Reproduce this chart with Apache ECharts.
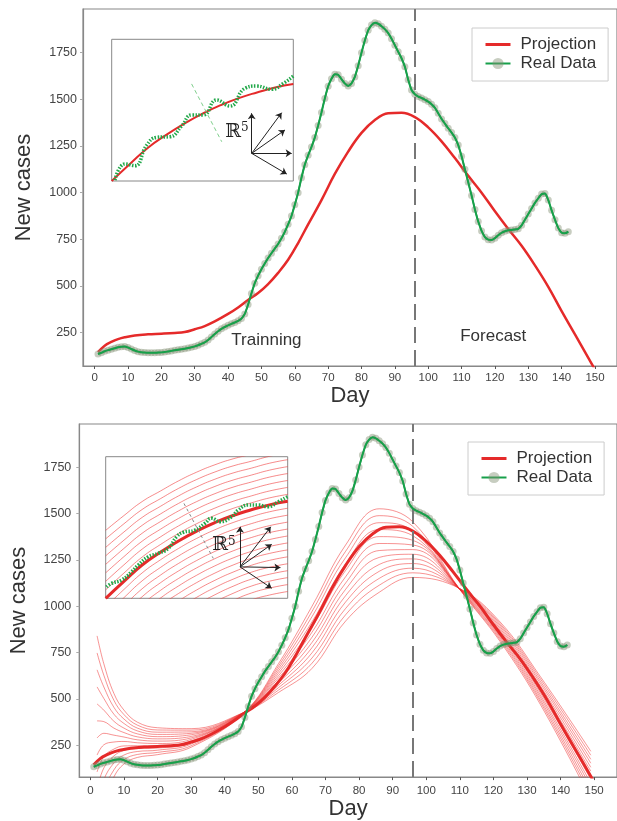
<!DOCTYPE html>
<html>
<head>
<meta charset="utf-8">
<script src="https://cdn.jsdelivr.net/npm/echarts@6/dist/echarts.min.js"></script>
<style>
  html, body { margin: 0; padding: 0; background: #fff; }
  #chart { width: 617px; height: 821px; }
</style>
</head>
<body>
<div id="chart"></div>
<script>
// tick labels
var xTicks = [0, 10, 20, 30, 40, 50, 60, 70, 80, 90, 100, 110, 120, 130, 140, 150];
var yTicks = [250, 500, 750, 1000, 1250, 1500, 1750];
var splitDay = 96;

// real data, one value per day starting at day 1
var realData = [
  135, 142, 150, 156, 161, 166, 171, 174, 175, 170,
  162, 154, 148, 145, 143, 142, 142, 142, 143, 144,
  146, 149, 152, 155, 158, 161, 164, 167, 171, 176,
  182, 190, 198, 210, 226, 242, 257, 270, 280, 289,
  297, 304, 313, 325, 350, 400, 460, 515, 555, 590,
  620, 650, 675, 700, 725, 755, 790, 830, 875, 935,
  1000, 1080, 1150, 1200, 1245, 1295, 1360, 1430, 1505, 1570,
  1610, 1635, 1632, 1608, 1585, 1572, 1585, 1620, 1680, 1750,
  1815, 1870, 1898, 1910, 1905, 1892, 1876, 1855, 1825, 1790,
  1755, 1720, 1675, 1605, 1550, 1527, 1515, 1507, 1498, 1488,
  1474, 1455, 1425, 1395, 1370, 1345, 1322, 1295, 1255, 1195,
  1125, 1055, 985, 910, 845, 795, 762, 748, 746, 756,
  772, 785, 793, 798, 800, 803, 806, 825, 855, 885,
  915, 945, 970, 992, 995, 960, 905, 855, 810, 785,
  782, 791
];

// projection (main fitted curve)
var projDays = [1, 3, 5, 7, 9, 12, 16, 20, 24, 27, 30, 33, 36, 40, 43, 46, 49, 52, 55, 58, 61, 64, 68, 72, 76, 80, 84, 88, 92, 96, 100, 104, 108, 112, 116, 120, 124, 128, 132, 136, 140, 144, 148, 151];
var projVals = [145, 180, 200, 215, 225, 235, 241, 244, 248, 253, 268, 285, 310, 350, 385, 425, 462, 510, 570, 640, 730, 830, 960, 1100, 1220, 1320, 1389, 1425, 1428, 1405, 1350, 1275, 1185, 1090, 1000, 900, 805, 715, 610, 495, 365, 240, 115, 20];

// ensemble of projections (bottom panel)
var ensDays = [2, 4, 7, 10, 14, 20, 30, 46, 56, 66, 76, 86, 96, 110, 122, 134, 149];
var ensCurves = [
  [840, 690, 530, 440, 375, 345, 340, 430, 535, 665, 920, 1075, 1155, 1095, 915, 620, 218],
  [748, 628, 493, 416, 359, 333, 332, 430, 548, 693, 954, 1113, 1180, 1095, 906, 608, 197],
  [657, 565, 455, 392, 343, 321, 323, 430, 561, 721, 988, 1150, 1205, 1094, 898, 595, 175],
  [565, 503, 418, 368, 328, 309, 315, 430, 574, 749, 1023, 1188, 1230, 1094, 889, 583, 154],
  [473, 440, 380, 343, 312, 297, 307, 430, 587, 777, 1057, 1225, 1255, 1093, 880, 570, 132],
  [382, 378, 343, 319, 296, 285, 298, 430, 600, 805, 1091, 1263, 1280, 1093, 871, 558, 111],
  [290, 315, 305, 295, 280, 273, 290, 430, 613, 833, 1125, 1300, 1305, 1093, 863, 545, 89],
  [198, 253, 268, 271, 264, 260, 282, 430, 625, 860, 1159, 1338, 1330, 1092, 854, 533, 68],
  [107, 190, 230, 247, 248, 248, 273, 430, 638, 888, 1193, 1375, 1355, 1092, 845, 520, 46],
  [15, 128, 193, 223, 233, 236, 265, 430, 651, 916, 1228, 1413, 1380, 1091, 836, 508, 25],
  [-77, 65, 155, 198, 217, 224, 257, 430, 664, 944, 1262, 1450, 1405, 1091, 828, 495, 3],
  [-168, 3, 118, 174, 201, 212, 248, 430, 677, 972, 1296, 1488, 1430, 1090, 819, 483, -19],
  [-260, -60, 80, 150, 185, 200, 240, 430, 690, 1000, 1330, 1525, 1455, 1090, 810, 470, -40]
];

// insets (unit square 0..100)
var insetU = [0, 10, 20, 30, 40, 50, 60, 70, 80, 90, 100];
var insetMain = [0, 12, 23.5, 32.5, 40.5, 47.5, 53.5, 58.5, 62.5, 66, 68.5];
var insetFamily = [
  [48, 58.4, 68.3, 75.7, 82.9, 89.1, 94.3, 98.5, 101.7, 105.2, 107.7],
  [42, 52.6, 62.7, 70.3, 77.6, 83.9, 89.2, 93.5, 96.8, 100.3, 102.8],
  [36, 46.8, 57.1, 64.9, 72.3, 78.7, 84.1, 88.5, 91.9, 95.4, 97.9],
  [30, 41, 51.5, 59.5, 67, 73.5, 79, 83.5, 87, 90.5, 93],
  [24, 35.2, 45.9, 54.1, 61.7, 68.3, 73.9, 78.5, 82.1, 85.6, 88.1],
  [18, 29.4, 40.3, 48.7, 56.4, 63.1, 68.8, 73.5, 77.2, 80.7, 83.2],
  [12, 23.6, 34.7, 43.3, 51.1, 57.9, 63.7, 68.5, 72.3, 75.8, 78.3],
  [6, 17.8, 29.1, 37.9, 45.8, 52.7, 58.6, 63.5, 67.4, 70.9, 73.4],
  [-6, 6.2, 17.9, 27.1, 35.2, 42.3, 48.4, 53.5, 57.6, 61.1, 63.6],
  [-12, 0.4, 12.3, 21.7, 29.9, 37.1, 43.3, 48.5, 52.7, 56.2, 58.7],
  [-18, -5.4, 6.7, 16.3, 24.6, 31.9, 38.2, 43.5, 47.8, 51.3, 53.8],
  [-24, -11.2, 1.1, 10.9, 19.3, 26.7, 33.1, 38.5, 42.9, 46.4, 48.9],
  [-30, -17, -4.5, 5.5, 14, 21.5, 28, 33.5, 38, 41.5, 44],
  [-36, -22.8, -10.1, 0.1, 8.7, 16.3, 22.9, 28.5, 33.1, 36.6, 39.1],
  [-42, -28.6, -15.7, -5.3, 3.4, 11.1, 17.8, 23.5, 28.2, 31.7, 34.2],
  [-48, -34.4, -21.3, -10.7, -1.9, 5.9, 12.7, 18.5, 23.3, 26.8, 29.3],
  [-54, -40.2, -26.9, -16.1, -7.2, 0.7, 7.6, 13.5, 18.4, 21.9, 24.4],
  [-60, -46, -32.5, -21.5, -12.5, -4.5, 2.5, 8.5, 13.5, 17, 19.5],
  [-66, -51.8, -38.1, -26.9, -17.8, -9.7, -2.6, 3.5, 8.6, 12.1, 14.6],
  [-72, -57.6, -43.7, -32.3, -23.1, -14.9, -7.7, -1.5, 3.7, 7.2, 9.7],
  [-78, -63.4, -49.3, -37.7, -28.4, -20.1, -12.8, -6.5, -1.2, 2.3, 4.8]
];
var waveTopU = [1.8, 7.3, 12.8, 19.3, 24.8, 32.1, 38.5, 44.1, 50.4, 57.8, 65.1, 73.4, 79.8, 88.1, 94.5, 100];
var waveTopV = [0.7, 12, 10.8, 25.4, 30.8, 31.3, 38.8, 46.6, 46.6, 57.2, 52.9, 65.4, 67, 64.7, 68.9, 74.1];
var waveBotU = [0.5, 3.3, 8.8, 14.3, 17.9, 23.4, 28.9, 34.4, 39, 42.6, 49.1, 54.6, 58.2, 62.8, 69.2, 72.9, 78.4, 83.8, 89.3, 94.8, 100];
var waveBotV = [8, 10.6, 12.9, 18.8, 23.5, 29.4, 31.8, 35.3, 43.5, 46.6, 48.2, 53, 56.5, 54.1, 57.6, 62.4, 65.9, 65.9, 64.7, 68.2, 71.8];
var guideTop = [[44, 68.5], [60.6, 27.7]];
var guideBot = [[43, 67], [59.1, 28.2]];
var arrowOriginTop = [77.1, 19.5];
var arrowEndsTop = [[77.1, 47.8], [93.6, 48.2], [95.4, 36], [99.1, 19.5], [96.4, 4.9]];
var arrowOriginBot = [73.8, 22.2];
var arrowEndsBot = [[73.8, 50.5], [90.7, 50.5], [91.2, 38.1], [96, 21.7], [91.2, 7.1]];

var RED = '#e52a2a';
var GREEN = '#17a04a';
var DOT = 'rgba(130,145,115,0.45)';

function zip(xs, ys) { return xs.map(function (x, i) { return [x, ys[i]]; }); }
var realPts = realData.map(function (v, i) { return [i + 1, v]; });
function plain(v) { return String(v); }

function mainX(gi, min, max, margin, gap) {
  return {
    type: 'value', gridIndex: gi, min: min, max: max,
    name: 'Day', nameLocation: 'middle', nameGap: gap,
    nameTextStyle: { fontSize: 22, color: '#333' },
    axisLine: { show: true, onZero: false, lineStyle: { color: '#888', width: 1.2 } },
    axisTick: { show: true, length: 3, lineStyle: { color: '#555' }, customValues: xTicks },
    axisLabel: { customValues: xTicks, formatter: plain, fontSize: 11.5, color: '#444', margin: margin },
    splitLine: { show: false }
  };
}
function mainY(gi, min, max, margin, gap) {
  return {
    type: 'value', gridIndex: gi, min: min, max: max,
    name: 'New cases', nameLocation: 'middle', nameGap: gap,
    nameTextStyle: { fontSize: 22, color: '#333' },
    axisLine: { show: true, onZero: false, lineStyle: { color: '#888', width: 1.2 } },
    axisTick: { show: true, length: 3, lineStyle: { color: '#aaa' }, customValues: yTicks },
    axisLabel: { customValues: yTicks, formatter: plain, fontSize: 12.5, color: '#444', margin: margin },
    splitLine: { show: false }
  };
}
function insetAxis(gi) {
  return { type: 'value', gridIndex: gi, min: 0, max: 100, show: false, splitLine: { show: false } };
}

var vline = {
  silent: true, symbol: ['none', 'none'], label: { show: false },
  lineStyle: { type: [16, 7], color: '#777', width: 2 },
  data: [{ xAxis: splitDay }]
};
var rLabel = {
  show: true, position: 'inside', formatter: '{r|\u211D}{s|5}',
  rich: {
    r: { fontSize: 19, fontFamily: 'DejaVu Serif', color: '#222' },
    s: { fontSize: 12, fontFamily: 'DejaVu Serif', color: '#222', verticalAlign: 'top' }
  }
};

var series = [];

// ---- top panel ----
series.push({
  type: 'line', name: 'Projection', xAxisIndex: 0, yAxisIndex: 0,
  data: zip(projDays, projVals), smooth: 0.4, symbol: 'none', z: 3,
  lineStyle: { color: RED, width: 2.5 }, itemStyle: { color: RED },
  markLine: vline,
  markPoint: {
    symbol: 'rect', symbolSize: 1, itemStyle: { color: 'rgba(0,0,0,0)' },
    label: { show: true, position: 'inside', formatter: '{b}', fontSize: 17, color: '#333' },
    data: [{ name: 'Trainning', coord: [51.5, 210] }, { name: 'Forecast', coord: [119.5, 228] }]
  }
});
series.push({
  type: 'line', name: 'Real Data', xAxisIndex: 0, yAxisIndex: 0,
  data: realPts, symbol: 'circle', symbolSize: 7, showSymbol: true, z: 4,
  itemStyle: { color: DOT }, lineStyle: { color: GREEN, width: 1.5 }
});
series.push({
  type: 'line', name: 'real-line-top', xAxisIndex: 0, yAxisIndex: 0,
  data: realPts, smooth: 0.3, symbol: 'none', z: 5,
  lineStyle: { color: GREEN, width: 2 }
});

// ---- bottom panel ----
ensCurves.forEach(function (c, k) {
  series.push({
    type: 'line', name: 'ens' + k, xAxisIndex: 1, yAxisIndex: 1,
    data: zip(ensDays, c), smooth: 0.4, symbol: 'none', silent: true, z: 2,
    lineStyle: { color: 'rgba(240,40,40,0.5)', width: 1 }
  });
});
series.push({
  type: 'line', name: 'Projection', xAxisIndex: 1, yAxisIndex: 1,
  data: zip(projDays, projVals), smooth: 0.4, symbol: 'none', z: 3,
  lineStyle: { color: RED, width: 3 }, itemStyle: { color: RED },
  markLine: vline
});
series.push({
  type: 'line', name: 'Real Data', xAxisIndex: 1, yAxisIndex: 1,
  data: realPts, symbol: 'circle', symbolSize: 7, showSymbol: true, z: 4,
  itemStyle: { color: DOT }, lineStyle: { color: GREEN, width: 1.5 }
});
series.push({
  type: 'line', name: 'real-line-bot', xAxisIndex: 1, yAxisIndex: 1,
  data: realPts, smooth: 0.3, symbol: 'none', z: 5,
  lineStyle: { color: GREEN, width: 2 }
});

// ---- top inset ----
series.push({
  type: 'line', name: 'inset-main-top', xAxisIndex: 2, yAxisIndex: 2,
  data: zip(insetU, insetMain), smooth: true, symbol: 'none', z: 4,
  lineStyle: { color: RED, width: 2 },
  markPoint: {
    symbol: 'rect', symbolSize: 1, itemStyle: { color: 'rgba(0,0,0,0)' },
    label: rLabel, data: [{ coord: [69, 34.8] }]
  }
});
series.push({
  type: 'line', name: 'inset-wave-top', xAxisIndex: 2, yAxisIndex: 2,
  data: zip(waveTopU, waveTopV), smooth: true, symbol: 'none', z: 5,
  lineStyle: { color: '#22a84a', width: 3.5, type: [1.5, 1.5] }
});
series.push({
  type: 'line', name: 'inset-guide-top', xAxisIndex: 2, yAxisIndex: 2,
  data: guideTop, symbol: 'none', z: 5,
  lineStyle: { color: '#7fcf8c', width: 1, type: [4, 3] }
});
series.push({
  type: 'lines', coordinateSystem: 'cartesian2d', xAxisIndex: 2, yAxisIndex: 2,
  symbol: ['none', 'arrow'], symbolSize: 6, z: 6,
  lineStyle: { color: '#222', width: 1, opacity: 1, curveness: 0 },
  data: arrowEndsTop.map(function (e) { return { coords: [arrowOriginTop, e] }; })
});

// ---- bottom inset ----
insetFamily.forEach(function (c, k) {
  series.push({
    type: 'line', name: 'fam' + k, xAxisIndex: 3, yAxisIndex: 3,
    data: zip(insetU, c), smooth: true, symbol: 'none', silent: true, z: 3,
    lineStyle: { color: 'rgba(240,60,60,0.75)', width: 0.8 }
  });
});
series.push({
  type: 'line', name: 'inset-main-bot', xAxisIndex: 3, yAxisIndex: 3,
  data: zip(insetU, insetMain), smooth: true, symbol: 'none', z: 4,
  lineStyle: { color: RED, width: 3 },
  markPoint: {
    symbol: 'rect', symbolSize: 1, itemStyle: { color: 'rgba(0,0,0,0)' },
    label: rLabel, data: [{ coord: [65, 37.6] }]
  }
});
series.push({
  type: 'line', name: 'inset-wave-bot', xAxisIndex: 3, yAxisIndex: 3,
  data: zip(waveBotU, waveBotV), smooth: true, symbol: 'none', z: 5,
  lineStyle: { color: '#22a84a', width: 3.5, type: [1.5, 1.5] }
});
series.push({
  type: 'line', name: 'inset-guide-bot', xAxisIndex: 3, yAxisIndex: 3,
  data: guideBot, symbol: 'none', z: 5,
  lineStyle: { color: '#888', width: 1, type: [3, 3] }
});
series.push({
  type: 'lines', coordinateSystem: 'cartesian2d', xAxisIndex: 3, yAxisIndex: 3,
  symbol: ['none', 'arrow'], symbolSize: 6, z: 6,
  lineStyle: { color: '#222', width: 1, opacity: 1, curveness: 0 },
  data: arrowEndsBot.map(function (e) { return { coords: [arrowOriginBot, e] }; })
});

function legendAt(left, top) {
  return {
    data: [
      { name: 'Projection', itemStyle: { opacity: 0 }, lineStyle: { width: 3 } },
      'Real Data'
    ],
    orient: 'vertical', left: left, top: top,
    padding: [8, 12, 9, 12], itemGap: 2, itemWidth: 25, itemHeight: 14,
    textStyle: { fontSize: 17, color: '#333', padding: [0, 0, 0, 5] },
    borderColor: '#ccc', borderWidth: 1, backgroundColor: '#fff', selectedMode: false
  };
}

var option = {
  animation: false,
  backgroundColor: '#fff',
  textStyle: { fontFamily: 'Liberation Sans, Arial, sans-serif' },
  grid: [
    { left: 83, top: 9, right: -16, bottom: 455, show: true, borderColor: '#888', borderWidth: 1.2 },
    { left: 79.3, top: 424, right: -14.7, bottom: 41.7, show: true, borderColor: '#888', borderWidth: 1.2 },
    { left: 111.7, top: 39.3, width: 181.6, height: 141.7, show: true, borderColor: '#888', backgroundColor: '#fff' },
    { left: 105.7, top: 456.7, width: 182, height: 141.6, show: true, borderColor: '#888', backgroundColor: '#fff' }
  ],
  xAxis: [mainX(0, -3.5, 156.6, 6, 18), mainX(1, -3.3, 156.8, 8, 17), insetAxis(2), insetAxis(3)],
  yAxis: [mainY(0, 71, 1984, 6, 48), mainY(1, 79, 1982, 8, 49), insetAxis(2), insetAxis(3)],
  legend: [legendAt(472, 28), legendAt(468, 442)],
  series: series
};

var myChart = echarts.init(document.getElementById('chart'), null, { renderer: 'canvas' });
myChart.setOption(option);
</script>
</body>
</html>
